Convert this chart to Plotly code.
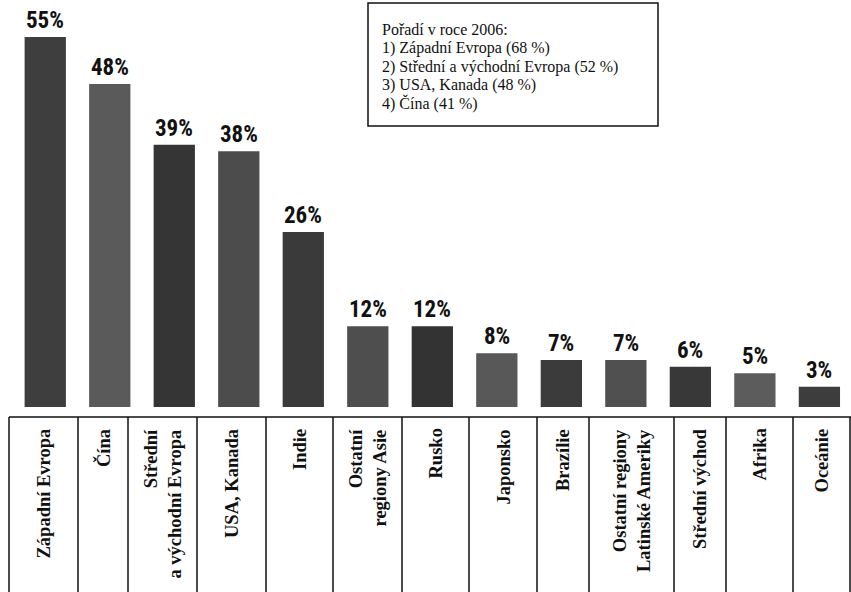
import plotly.graph_objects as go

W, H = 851, 592

categories = ["Západní Evropa", "Čína", "Střední a východní Evropa", "USA, Kanada", "Indie",
              "Ostatní regiony Asie", "Rusko", "Japonsko", "Brazílie",
              "Ostatní regiony Latinské Ameriky", "Střední východ", "Afrika", "Oceánie"]
values = [55, 48, 39, 38, 26, 12, 12, 8, 7, 7, 6, 5, 3]
value_labels = ["55%", "48%", "39%", "38%", "26%", "12%", "12%", "8%", "7%", "7%", "6%", "5%", "3%"]
cell_labels = ["Západní Evropa", "Čína", "Střední<br>a východní Evropa", "USA, Kanada", "Indie",
               "Ostatní<br>regiony Asie", "Rusko", "Japonsko", "Brazílie",
               "Ostatní regiony<br>Latinské Ameriky", "Střední východ", "Afrika", "Oceánie"]
legend_lines = ["Pořadí v roce 2006:", "1) Západní Evropa (68 %)",
                "2) Střední a východní Evropa (52 %)", "3) USA, Kanada (48 %)", "4) Čína (41 %)"]

# styling / layout (pixel positions of the label table)
bar_colors = ["#3e3e3e", "#5a5a5a", "#353535", "#4c4c4c", "#3a3a3a", "#4e4e4e", "#333333",
              "#585858", "#3b3b3b", "#505050", "#383838", "#5c5c5c", "#3d3d3d"]
cell_edges_px = [9, 78, 128, 197, 266, 333, 402, 469, 537, 589, 674, 726, 793, 850]
table_top_px = 417


def px_x(v):
    return v / W


def px_y(v):
    return (H - v) / H


fig = go.Figure()
fig.add_trace(go.Bar(x=categories, y=values, marker=dict(color=bar_colors, line=dict(width=0)),
                     width=0.64, hoverinfo="skip"))

annotations = []
for c, v, t in zip(categories, values, value_labels):
    annotations.append(dict(x=c, y=v, xref="x", yref="y", text="<b>" + t + "</b>", showarrow=False,
                            yanchor="bottom", xanchor="center", yshift=1,
                            font=dict(family="Roboto Condensed, Liberation Sans Narrow, Roboto, sans-serif",
                                      size=23, color="#111111")))

for i, lab in enumerate(cell_labels):
    cx = (cell_edges_px[i] + cell_edges_px[i + 1]) / 2
    annotations.append(dict(x=px_x(cx), y=px_y(427), xref="paper", yref="paper", text="<b>" + lab + "</b>",
                            showarrow=False, textangle=-90, xanchor="center", yanchor="top", align="right",
                            font=dict(family="Liberation Serif, Times New Roman, serif", size=18.5, color="#111111")))

legend_y_px = [30, 48.3, 66.7, 85, 103.3]
for line, ly in zip(legend_lines, legend_y_px):
    annotations.append(dict(x=px_x(380), y=px_y(ly), xref="paper", yref="paper", text=line, showarrow=False,
                            xanchor="left", yanchor="middle",
                            font=dict(family="Liberation Serif, Times New Roman, serif", size=16, color="#111111")))

shapes = [dict(type="rect", xref="paper", yref="paper", x0=px_x(368), x1=px_x(658), y0=px_y(126), y1=px_y(3),
               line=dict(color="#111111", width=1.5))]
shapes.append(dict(type="line", xref="paper", yref="paper", x0=px_x(cell_edges_px[0]), x1=1,
                   y0=px_y(table_top_px), y1=px_y(table_top_px), line=dict(color="#111111", width=1.5)))
for e in cell_edges_px:
    shapes.append(dict(type="line", xref="paper", yref="paper", x0=px_x(e), x1=px_x(e),
                       y0=px_y(table_top_px), y1=0, line=dict(color="#111111", width=1.5)))

fig.update_layout(
    width=W, height=H, margin=dict(l=0, r=0, t=0, b=0),
    paper_bgcolor="white", plot_bgcolor="white", showlegend=False,
    xaxis=dict(domain=[13 / W, 1], range=[-0.5, 12.49], showticklabels=False, showgrid=False,
               zeroline=False, showline=False, fixedrange=True),
    yaxis=dict(domain=[(H - 407) / H, 1], range=[0, 60.5], showticklabels=False, showgrid=False,
               zeroline=False, showline=False, fixedrange=True),
    annotations=annotations, shapes=shapes,
)

fig.write_html("out.html", config={"displayModeBar": False},
               post_script="document.body.style.margin='0';document.body.style.overflow='hidden';")
